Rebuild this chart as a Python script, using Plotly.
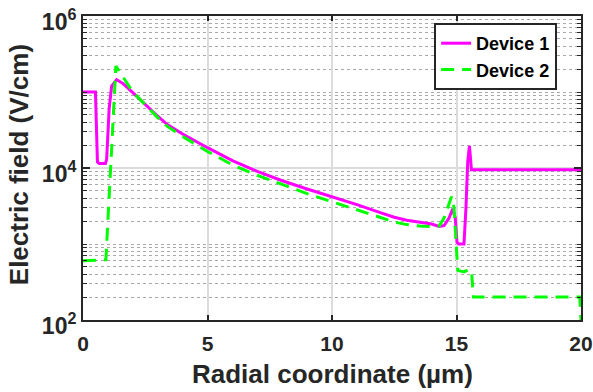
import plotly.graph_objects as go

# Device 1 (magenta, solid)
x1 = [0, 0.5, 0.58, 0.65, 0.9, 0.95, 1.05, 1.15, 1.35, 1.6, 2.0, 2.5, 3.0, 3.4, 4.0, 5.0,
      6.0, 7.0, 8.0, 9.0, 10.0, 11.0, 12.0, 12.5, 13.0, 13.5, 14.0, 14.3, 14.5, 14.7,
      14.85, 14.95, 15.02, 15.1, 15.3, 15.38, 15.45, 15.52, 15.6, 20.0]
e1 = [1e5, 1e5, 1.2e4, 1.15e4, 1.15e4, 1.3e4, 6e4, 1.2e5, 1.45e5, 1.3e5, 9.8e4, 6.8e4,
      4.8e4, 3.7e4, 2.8e4, 1.85e4, 1.25e4, 9.0e3, 6.8e3, 5.3e3, 4.2e3, 3.3e3, 2.55e3,
      2.25e3, 2.05e3, 1.93e3, 1.83e3, 1.7e3, 1.75e3, 2.2e3, 2.9e3, 2.2e3, 1.05e3, 1.0e3,
      1.0e3, 3e3, 1.2e4, 1.95e4, 9.5e3, 9.5e3]

# Device 2 (green, dashed)
x2 = [0, 0.92, 1.32, 1.6, 2.0, 2.5, 3.0, 3.4, 4.0, 5.0, 6.0, 7.0, 8.0, 9.0, 10.0, 11.0,
      12.0, 12.5, 13.0, 13.5, 14.0, 14.3, 14.5, 14.8, 14.9, 15.0, 15.05, 15.3, 15.5,
      15.6, 15.68, 19.95, 20.0]
e2 = [600, 620, 2.2e5, 1.6e5, 1.0e5, 6.8e4, 4.6e4, 3.5e4, 2.6e4, 1.65e4, 1.1e4, 8.0e3,
      6.0e3, 4.6e3, 3.6e3, 2.8e3, 2.2e3, 1.95e3, 1.8e3, 1.72e3, 1.7e3, 1.72e3, 2.2e3,
      4.2e3, 3.0e3, 800, 450, 430, 460, 450, 200, 200, 100]

x_ticks = [0, 5, 10, 15, 20]
y_major = [1e2, 1e4, 1e6]
y_major_text = ["10<sup>2</sup>", "10<sup>4</sup>", "10<sup>6</sup>"]
y_minor = sorted([m * 10 ** k for k in (2, 3, 4, 5) for m in range(2, 10)] + [1e3, 1e5])

x_title = "Radial coordinate (µm)"
y_title = "Electric field (V/cm)"

axis_col = "#262626"
font_fam = "Liberation Sans, Arial, sans-serif"

fig = go.Figure()
fig.add_trace(go.Scatter(x=x1, y=e1, mode="lines", name="Device 1",
                         line=dict(color="#FF00FF", width=3)))
fig.add_trace(go.Scatter(x=x2, y=e2, mode="lines", name="Device 2",
                         line=dict(color="#00FF00", width=3, dash="13px,8px")))

fig.update_layout(
    width=593, height=392,
    margin=dict(l=83, r=12, t=16, b=72),
    paper_bgcolor="white", plot_bgcolor="white",
    font=dict(family=font_fam, color=axis_col),
    showlegend=True,
    legend=dict(x=0.952, y=0.977, xanchor="right", yanchor="top",
                bgcolor="white", bordercolor=axis_col, borderwidth=2,
                font=dict(size=18, family=font_fam, color="black", weight="bold"),
                tracegroupgap=0, itemwidth=30),
    xaxis=dict(range=[0, 20], tickvals=x_ticks, ticktext=[str(v) for v in x_ticks],
               automargin=False, ticklabelstandoff=4, ticklabeloverflow="allow",
               showline=True, linecolor=axis_col, linewidth=2, mirror="allticks",
               ticks="inside", ticklen=5, tickwidth=1.5, tickcolor=axis_col,
               showgrid=True, gridcolor="#dcdcdc", gridwidth=1.5, zeroline=False,
               tickfont=dict(size=21, weight="bold", color=axis_col)),
    yaxis=dict(type="log", range=[2, 6], tickvals=y_major, ticktext=y_major_text,
               automargin=False, ticklabelshift=6, ticklabeloverflow="allow",
               showline=True, linecolor=axis_col, linewidth=2, mirror="allticks",
               ticks="inside", ticklen=7, tickwidth=1.5, tickcolor=axis_col,
               showgrid=True, gridcolor="#dcdcdc", gridwidth=1.5, zeroline=False,
               tickfont=dict(size=23, weight="bold", color=axis_col),
               minor=dict(tickmode="array", tickvals=y_minor, ticks="inside",
                          ticklen=4, tickwidth=1, tickcolor=axis_col,
                          showgrid=True, gridcolor="#a8a8a8", gridwidth=1,
                          griddash="dot")),
    annotations=[
        dict(text=x_title, xref="paper", yref="paper", x=0.5, y=-0.178,
             xanchor="center", yanchor="middle", showarrow=False,
             font=dict(size=26, weight="bold", color=axis_col)),
        dict(text=y_title, xref="paper", yref="paper", x=-0.128, y=0.51,
             xanchor="center", yanchor="middle", showarrow=False, textangle=-90,
             font=dict(size=26, weight="bold", color=axis_col)),
    ],
)
fig.write_html("out.html", config={"displayModeBar": False},
               post_script="document.body.style.margin='0';")
